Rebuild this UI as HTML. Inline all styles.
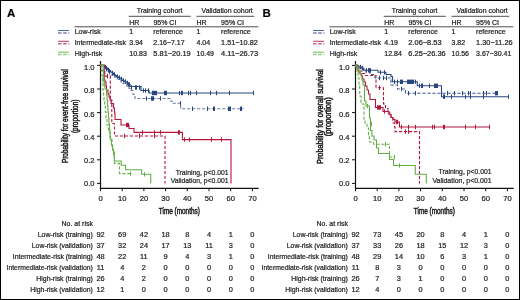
<!DOCTYPE html>
<html><head><meta charset="utf-8"><style>
html,body{margin:0;padding:0;background:#fff;width:520px;height:300px;overflow:hidden;}
svg{display:block;will-change:transform;}
text{font-family:"Liberation Sans",sans-serif;stroke:#2a2a2a;stroke-width:0.22px;}
text.ax{stroke-width:0.45px;stroke:#1a1a1a;}
</style></head><body>
<svg width="520" height="300" viewBox="0 0 520 300">
<rect x="0" y="0" width="520" height="300" fill="#fff"/>
<defs><g id="common">
<path d="M128.7,16.3H190.8M196.5,16.3H254.3M74.5,26.8H258.3" stroke="#222" stroke-width="0.8" fill="none"/>
<text x="129.2" y="25.1" font-size="7" fill="#1a1a1a">HR</text>
<text x="153.4" y="25.1" font-size="7" fill="#1a1a1a">95% CI</text>
<text x="196.5" y="25.1" font-size="7" fill="#1a1a1a">HR</text>
<text x="221.1" y="25.1" font-size="7" fill="#1a1a1a">95% CI</text>
<text x="136.7" y="13.1" font-size="7" textLength="45.8" lengthAdjust="spacingAndGlyphs" fill="#1a1a1a">Training cohort</text>
<text x="201.6" y="13.2" font-size="7" textLength="51.2" lengthAdjust="spacingAndGlyphs" fill="#1a1a1a">Validation cohort</text>
<text x="74.7" y="34.0" font-size="7" fill="#1a1a1a">Low-risk</text>
<path d="M58,30.5H69" stroke="#28467f" stroke-width="1.1" opacity="0.8"/>
<path d="M58,32.9H69.4" stroke="#28467f" stroke-width="1.5" stroke-dasharray="3.6 1.6" opacity="0.65"/>
<text x="74.7" y="44.8" font-size="7" textLength="51.3" lengthAdjust="spacingAndGlyphs" fill="#1a1a1a">Intermediate-risk</text>
<path d="M58,41.3H69" stroke="#b3173f" stroke-width="1.1" opacity="0.8"/>
<path d="M58,43.699999999999996H69.4" stroke="#b3173f" stroke-width="1.5" stroke-dasharray="3.6 1.6" opacity="0.65"/>
<text x="74.7" y="55.7" font-size="7" fill="#1a1a1a">High-risk</text>
<path d="M58,52.2H69" stroke="#62b046" stroke-width="1.1" opacity="0.8"/>
<path d="M58,54.6H69.4" stroke="#62b046" stroke-width="1.5" stroke-dasharray="3.6 1.6" opacity="0.65"/>
<path d="M100.5,61V188.9M99.9,188.3H258.7" stroke="#111" stroke-width="1.2" fill="none"/>
<path d="M97,183.4H100.5M97,159.8H100.5M97,136.2H100.5M97,112.6H100.5M97,89.0H100.5M97,65.4H100.5M100.5,188.3V191.2M122.2,188.3V191.2M143.9,188.3V191.2M165.6,188.3V191.2M187.3,188.3V191.2M209.0,188.3V191.2M230.7,188.3V191.2M252.4,188.3V191.2" stroke="#111" stroke-width="1" fill="none"/>
<text x="94.6" y="185.7" font-size="7.6" text-anchor="end" fill="#1a1a1a">0.0</text>
<text x="94.6" y="163.3" font-size="7.6" text-anchor="end" fill="#1a1a1a">0.2</text>
<text x="94.6" y="139.6" font-size="7.6" text-anchor="end" fill="#1a1a1a">0.4</text>
<text x="94.6" y="116.6" font-size="7.6" text-anchor="end" fill="#1a1a1a">0.6</text>
<text x="94.6" y="93.1" font-size="7.6" text-anchor="end" fill="#1a1a1a">0.8</text>
<text x="94.6" y="69.9" font-size="7.6" text-anchor="end" fill="#1a1a1a">1.0</text>
<text x="100.5" y="201.3" font-size="7.6" text-anchor="middle" fill="#1a1a1a">0</text>
<text x="122.2" y="201.3" font-size="7.6" text-anchor="middle" fill="#1a1a1a">10</text>
<text x="143.9" y="201.3" font-size="7.6" text-anchor="middle" fill="#1a1a1a">20</text>
<text x="165.6" y="201.3" font-size="7.6" text-anchor="middle" fill="#1a1a1a">30</text>
<text x="187.3" y="201.3" font-size="7.6" text-anchor="middle" fill="#1a1a1a">40</text>
<text x="209.0" y="201.3" font-size="7.6" text-anchor="middle" fill="#1a1a1a">50</text>
<text x="230.7" y="201.3" font-size="7.6" text-anchor="middle" fill="#1a1a1a">60</text>
<text x="252.4" y="201.3" font-size="7.6" text-anchor="middle" fill="#1a1a1a">70</text>
<text x="158.8" y="213.5" font-size="8.2" textLength="41" lengthAdjust="spacingAndGlyphs" fill="#1a1a1a" class="ax">Time (months)</text>
<text x="93" y="225.5" font-size="7" text-anchor="end" fill="#1a1a1a">No. at risk</text>
<text x="92.8" y="236.8" font-size="7" text-anchor="end" textLength="55.1" lengthAdjust="spacingAndGlyphs" fill="#1a1a1a">Low-risk (training)</text>
<text x="92.8" y="247.75" font-size="7" text-anchor="end" textLength="61.0" lengthAdjust="spacingAndGlyphs" fill="#1a1a1a">Low-risk (validation)</text>
<text x="92.8" y="258.7" font-size="7" text-anchor="end" textLength="80.0" lengthAdjust="spacingAndGlyphs" fill="#1a1a1a">Intermediate-risk (training)</text>
<text x="92.8" y="269.65" font-size="7" text-anchor="end" textLength="86.3" lengthAdjust="spacingAndGlyphs" fill="#1a1a1a">Intermediate-risk (validation)</text>
<text x="92.8" y="280.6" font-size="7" text-anchor="end" textLength="56.5" lengthAdjust="spacingAndGlyphs" fill="#1a1a1a">High-risk (training)</text>
<text x="92.8" y="291.55" font-size="7" text-anchor="end" textLength="62.5" lengthAdjust="spacingAndGlyphs" fill="#1a1a1a">High-risk (validation)</text>
</g></defs>
<use href="#common"/>
<use href="#common" transform="translate(255,0)"/>
<g id="pa">
<text x="7" y="16.7" font-size="11.5" font-weight="bold" fill="#000">A</text>
<text x="129.3" y="34.0" font-size="7" fill="#1a1a1a">1</text>
<text x="153.3" y="34.0" font-size="7" fill="#1a1a1a">reference</text>
<text x="196.5" y="34.0" font-size="7" fill="#1a1a1a">1</text>
<text x="221.1" y="34.0" font-size="7" fill="#1a1a1a">reference</text>
<text x="129.3" y="44.8" font-size="7" fill="#1a1a1a">3.94</text>
<text x="153.3" y="44.8" font-size="7" textLength="31.3" lengthAdjust="spacingAndGlyphs" fill="#1a1a1a">2.16−7.17</text>
<text x="196.5" y="44.8" font-size="7" fill="#1a1a1a">4.04</text>
<text x="221.1" y="44.8" font-size="7" textLength="36.7" lengthAdjust="spacingAndGlyphs" fill="#1a1a1a">1.51−10.82</text>
<text x="129.3" y="55.7" font-size="7" fill="#1a1a1a">10.83</text>
<text x="153.3" y="55.7" font-size="7" textLength="37.4" lengthAdjust="spacingAndGlyphs" fill="#1a1a1a">5.81−20.19</text>
<text x="196.5" y="55.7" font-size="7" fill="#1a1a1a">10.49</text>
<text x="221.1" y="55.7" font-size="7" textLength="37.1" lengthAdjust="spacingAndGlyphs" fill="#1a1a1a">4.11−26.73</text>
<text x="100.5" y="236.8" font-size="7.4" text-anchor="middle" fill="#1a1a1a">92</text>
<text x="122.2" y="236.8" font-size="7.4" text-anchor="middle" fill="#1a1a1a">69</text>
<text x="143.9" y="236.8" font-size="7.4" text-anchor="middle" fill="#1a1a1a">42</text>
<text x="165.6" y="236.8" font-size="7.4" text-anchor="middle" fill="#1a1a1a">18</text>
<text x="187.3" y="236.8" font-size="7.4" text-anchor="middle" fill="#1a1a1a">8</text>
<text x="209.0" y="236.8" font-size="7.4" text-anchor="middle" fill="#1a1a1a">4</text>
<text x="230.7" y="236.8" font-size="7.4" text-anchor="middle" fill="#1a1a1a">1</text>
<text x="252.4" y="236.8" font-size="7.4" text-anchor="middle" fill="#1a1a1a">0</text>
<text x="100.5" y="247.75" font-size="7.4" text-anchor="middle" fill="#1a1a1a">37</text>
<text x="122.2" y="247.75" font-size="7.4" text-anchor="middle" fill="#1a1a1a">32</text>
<text x="143.9" y="247.75" font-size="7.4" text-anchor="middle" fill="#1a1a1a">24</text>
<text x="165.6" y="247.75" font-size="7.4" text-anchor="middle" fill="#1a1a1a">17</text>
<text x="187.3" y="247.75" font-size="7.4" text-anchor="middle" fill="#1a1a1a">13</text>
<text x="209.0" y="247.75" font-size="7.4" text-anchor="middle" fill="#1a1a1a">11</text>
<text x="230.7" y="247.75" font-size="7.4" text-anchor="middle" fill="#1a1a1a">3</text>
<text x="252.4" y="247.75" font-size="7.4" text-anchor="middle" fill="#1a1a1a">0</text>
<text x="100.5" y="258.7" font-size="7.4" text-anchor="middle" fill="#1a1a1a">48</text>
<text x="122.2" y="258.7" font-size="7.4" text-anchor="middle" fill="#1a1a1a">22</text>
<text x="143.9" y="258.7" font-size="7.4" text-anchor="middle" fill="#1a1a1a">11</text>
<text x="165.6" y="258.7" font-size="7.4" text-anchor="middle" fill="#1a1a1a">9</text>
<text x="187.3" y="258.7" font-size="7.4" text-anchor="middle" fill="#1a1a1a">4</text>
<text x="209.0" y="258.7" font-size="7.4" text-anchor="middle" fill="#1a1a1a">3</text>
<text x="230.7" y="258.7" font-size="7.4" text-anchor="middle" fill="#1a1a1a">1</text>
<text x="252.4" y="258.7" font-size="7.4" text-anchor="middle" fill="#1a1a1a">0</text>
<text x="100.5" y="269.65" font-size="7.4" text-anchor="middle" fill="#1a1a1a">11</text>
<text x="122.2" y="269.65" font-size="7.4" text-anchor="middle" fill="#1a1a1a">4</text>
<text x="143.9" y="269.65" font-size="7.4" text-anchor="middle" fill="#1a1a1a">2</text>
<text x="165.6" y="269.65" font-size="7.4" text-anchor="middle" fill="#1a1a1a">0</text>
<text x="187.3" y="269.65" font-size="7.4" text-anchor="middle" fill="#1a1a1a">0</text>
<text x="209.0" y="269.65" font-size="7.4" text-anchor="middle" fill="#1a1a1a">0</text>
<text x="230.7" y="269.65" font-size="7.4" text-anchor="middle" fill="#1a1a1a">0</text>
<text x="252.4" y="269.65" font-size="7.4" text-anchor="middle" fill="#1a1a1a">0</text>
<text x="100.5" y="280.6" font-size="7.4" text-anchor="middle" fill="#1a1a1a">26</text>
<text x="122.2" y="280.6" font-size="7.4" text-anchor="middle" fill="#1a1a1a">4</text>
<text x="143.9" y="280.6" font-size="7.4" text-anchor="middle" fill="#1a1a1a">2</text>
<text x="165.6" y="280.6" font-size="7.4" text-anchor="middle" fill="#1a1a1a">0</text>
<text x="187.3" y="280.6" font-size="7.4" text-anchor="middle" fill="#1a1a1a">0</text>
<text x="209.0" y="280.6" font-size="7.4" text-anchor="middle" fill="#1a1a1a">0</text>
<text x="230.7" y="280.6" font-size="7.4" text-anchor="middle" fill="#1a1a1a">0</text>
<text x="252.4" y="280.6" font-size="7.4" text-anchor="middle" fill="#1a1a1a">0</text>
<text x="100.5" y="291.55" font-size="7.4" text-anchor="middle" fill="#1a1a1a">12</text>
<text x="122.2" y="291.55" font-size="7.4" text-anchor="middle" fill="#1a1a1a">1</text>
<text x="143.9" y="291.55" font-size="7.4" text-anchor="middle" fill="#1a1a1a">0</text>
<text x="165.6" y="291.55" font-size="7.4" text-anchor="middle" fill="#1a1a1a">0</text>
<text x="187.3" y="291.55" font-size="7.4" text-anchor="middle" fill="#1a1a1a">0</text>
<text x="209.0" y="291.55" font-size="7.4" text-anchor="middle" fill="#1a1a1a">0</text>
<text x="230.7" y="291.55" font-size="7.4" text-anchor="middle" fill="#1a1a1a">0</text>
<text x="252.4" y="291.55" font-size="7.4" text-anchor="middle" fill="#1a1a1a">0</text>
<text x="228.5" y="174.8" font-size="7" text-anchor="end" textLength="52.8" lengthAdjust="spacingAndGlyphs" fill="#1a1a1a">Training, p&lt;0.001</text>
<text x="228.5" y="183.3" font-size="7" text-anchor="end" textLength="57.8" lengthAdjust="spacingAndGlyphs" fill="#1a1a1a">Validation, p&lt;0.001</text>
<g transform="translate(67.7,116.2) rotate(-90)"><text x="0" y="0" font-size="8.2" text-anchor="middle" textLength="93.8" lengthAdjust="spacingAndGlyphs" fill="#1a1a1a" class="ax">Probability for event-free survival</text></g>
<g transform="translate(78.1,116.3) rotate(-90)"><text x="0" y="0" font-size="8.2" text-anchor="middle" textLength="33.6" lengthAdjust="spacingAndGlyphs" fill="#1a1a1a" class="ax">(proportion)</text></g>
<path d="M100.5,65.4H103.5V67H105V69H106.5V71H108V72.5H109.5V74H111V75H113V76.5H115V77.5H117V79H119V80.5H121V82H123V83.5H125V85H127V86.5H129V88.5H131V90.5H133V94.5H135V98.5H170V98.5H170V101H172V101H172V103.3H180.7V103.3H180.7V108.8H243.5V108.8" fill="none" stroke="#28467f" stroke-width="1.1" stroke-dasharray="3.2 1.8" opacity="0.7"/>
<path d="M100.5,65.4H104.5V66.5H106V68H107.5V69.5H109V70.5H110.5V72H112V73H113.5V74.5H115V75.5H116.5V76.5H118V77.5H120V79H122V80.5H124V81.5H126V83H128V84.5H130V86.5H141V87.5H141V90.5H149V90.5H149V93H253.9V93" fill="none" stroke="#28467f" stroke-width="1.2"/>
<path d="M100.5,65.4L101,65.4L101,70.3L104.8,70.3L104.8,76.1L110.3,76.1L110.3,100L111.8,100L111.8,123.5L114.5,123.5L114.5,136L165,136L165,183.4" fill="none" stroke="#b3173f" stroke-width="1.1" stroke-dasharray="3.2 1.8"/>
<path d="M100.5,65.4L104.2,65.4L104.2,80L105,80L105,82L106,82L106,86L106.5,86L106.5,90L108,90L108,94L109,94L109,97L110,97L110,100L111,100L111,103.5L113.5,103.5L113.5,108L114.5,108L114.5,113L115,113L115,119.5L121,119.5L121,125L129,125L129,128.5L134,128.5L134,132.4L182.4,132.4L182.4,139.6L231,139.6L231,183.4" fill="none" stroke="#b3173f" stroke-width="1.1"/>
<path d="M100.5,65.4L102,65.4L102,76L102.6,76L102.6,84L103,84L103,90L103.5,90L103.5,95L104,95L104,100L104.7,100L104.7,106L105.3,106L105.3,112L106,112L106,118L107,118L107,125L108.5,125L108.5,132L110,132L110,138L112,138L112,146L113,146L113,152L114.5,152L114.5,163.4L119.5,163.4L119.5,173.6L132.6,173.6" fill="none" stroke="#62b046" stroke-width="1.1" stroke-dasharray="3.2 1.8"/>
<path d="M100.5,65.4L103.3,65.4L103.3,78L103.8,78L103.8,82L104.3,82L104.3,86L105,86L105,89L106.5,89L106.5,95L107,95L107,100L107.5,100L107.5,106L108,106L108,112L108.5,112L108.5,118L109,118L109,124L109.5,124L109.5,130L110,130L110,136L110.5,136L110.5,140L111.5,140L111.5,145L112.5,145L112.5,150L113.5,150L113.5,155L114.3,155L114.3,161L121.2,161L121.2,165.2L125.6,165.2L125.6,169.7L141.6,169.7L141.6,174.3L150.7,174.3L150.7,183.4" fill="none" stroke="#62b046" stroke-width="1.1"/>
<path d="M105.5,64.8V69.2M106.5,66.3V70.7M108.5,67.8V72.2M109.5,68.8V73.2M112.5,70.8V75.2M114.5,72.3V76.7M117.5,74.3V78.7M119.5,75.3V79.7M121.5,76.8V81.2M123.5,78.3V82.7M125.5,79.3V83.7M127.5,80.8V85.2M128.5,82.3V86.7M129.5,82.3V86.7M131.5,85.3V89.7M135.5,85.3V89.7M136.5,85.3V89.7M139.5,85.3V89.7M143.5,88.3V92.7M145.5,88.3V92.7M148.5,88.3V92.7M152.5,90.8V95.2M153.5,90.8V95.2M154.5,90.8V95.2M155.5,90.8V95.2M156.5,90.8V95.2M164.5,90.8V95.2M165.5,90.8V95.2M166.5,90.8V95.2M179.5,90.8V95.2M181.5,90.8V95.2M182.5,90.8V95.2M188.5,90.8V95.2M190.5,90.8V95.2M196.5,90.8V95.2M210.5,90.8V95.2M216.5,90.8V95.2M229.5,90.8V95.2M253.5,90.8V95.2" fill="none" stroke="#28467f" stroke-width="1.0"/>
<path d="M146.5,96.3V100.7M151.5,96.3V100.7M152.5,96.3V100.7M153.5,96.3V100.7M160.5,96.3V100.7M180.5,101.1V105.5M192.5,106.6V111.0M207.5,106.6V111.0M213.5,106.6V111.0M214.5,106.6V111.0M228.5,106.6V111.0M229.5,106.6V111.0M230.5,106.6V111.0M240.5,106.6V111.0M241.5,106.6V111.0" fill="none" stroke="#28467f" stroke-width="1.0"/>
<path d="M107.5,74.0V78.4M126.5,122.8V127.2M127.5,122.8V127.2M128.5,122.8V127.2M142.5,130.20000000000002V134.6M154.5,130.20000000000002V134.6M160.5,130.20000000000002V134.6M178.5,130.20000000000002V134.6M179.5,130.20000000000002V134.6M184.5,137.4V141.79999999999998M189.5,137.4V141.79999999999998M211.5,137.4V141.79999999999998M221.5,137.4V141.79999999999998" fill="none" stroke="#b3173f" stroke-width="1.0"/>
<path d="M124.5,133.8V138.2M139.5,133.8V138.2M139.5,133.8V138.2M154.5,133.8V138.2" fill="none" stroke="#b3173f" stroke-width="1.0"/>
<path d="M144.5,172.10000000000002V176.5" fill="none" stroke="#62b046" stroke-width="1.0"/>
<path d="M130.5,171.4V175.79999999999998" fill="none" stroke="#62b046" stroke-width="1.0"/>
</g>
<g id="pb" transform="translate(255,0)">
<text x="7.399999999999977" y="17" font-size="11.5" font-weight="bold" fill="#000">B</text>
<text x="129.3" y="34.0" font-size="7" fill="#1a1a1a">1</text>
<text x="153.3" y="34.0" font-size="7" fill="#1a1a1a">reference</text>
<text x="196.5" y="34.0" font-size="7" fill="#1a1a1a">1</text>
<text x="221.1" y="34.0" font-size="7" fill="#1a1a1a">reference</text>
<text x="129.3" y="44.8" font-size="7" fill="#1a1a1a">4.19</text>
<text x="153.3" y="44.8" font-size="7" textLength="33.3" lengthAdjust="spacingAndGlyphs" fill="#1a1a1a">2.06−8.53</text>
<text x="196.5" y="44.8" font-size="7" fill="#1a1a1a">3.82</text>
<text x="221.1" y="44.8" font-size="7" textLength="36.6" lengthAdjust="spacingAndGlyphs" fill="#1a1a1a">1.30−11.26</text>
<text x="129.3" y="55.7" font-size="7" fill="#1a1a1a">12.84</text>
<text x="153.3" y="55.7" font-size="7" textLength="37.4" lengthAdjust="spacingAndGlyphs" fill="#1a1a1a">6.25−26.36</text>
<text x="196.5" y="55.7" font-size="7" fill="#1a1a1a">10.56</text>
<text x="221.1" y="55.7" font-size="7" textLength="35.2" lengthAdjust="spacingAndGlyphs" fill="#1a1a1a">3.67−30.41</text>
<text x="100.5" y="236.8" font-size="7.4" text-anchor="middle" fill="#1a1a1a">92</text>
<text x="122.2" y="236.8" font-size="7.4" text-anchor="middle" fill="#1a1a1a">73</text>
<text x="143.9" y="236.8" font-size="7.4" text-anchor="middle" fill="#1a1a1a">45</text>
<text x="165.6" y="236.8" font-size="7.4" text-anchor="middle" fill="#1a1a1a">20</text>
<text x="187.3" y="236.8" font-size="7.4" text-anchor="middle" fill="#1a1a1a">8</text>
<text x="209.0" y="236.8" font-size="7.4" text-anchor="middle" fill="#1a1a1a">4</text>
<text x="230.7" y="236.8" font-size="7.4" text-anchor="middle" fill="#1a1a1a">1</text>
<text x="252.4" y="236.8" font-size="7.4" text-anchor="middle" fill="#1a1a1a">0</text>
<text x="100.5" y="247.75" font-size="7.4" text-anchor="middle" fill="#1a1a1a">37</text>
<text x="122.2" y="247.75" font-size="7.4" text-anchor="middle" fill="#1a1a1a">33</text>
<text x="143.9" y="247.75" font-size="7.4" text-anchor="middle" fill="#1a1a1a">26</text>
<text x="165.6" y="247.75" font-size="7.4" text-anchor="middle" fill="#1a1a1a">18</text>
<text x="187.3" y="247.75" font-size="7.4" text-anchor="middle" fill="#1a1a1a">15</text>
<text x="209.0" y="247.75" font-size="7.4" text-anchor="middle" fill="#1a1a1a">12</text>
<text x="230.7" y="247.75" font-size="7.4" text-anchor="middle" fill="#1a1a1a">3</text>
<text x="252.4" y="247.75" font-size="7.4" text-anchor="middle" fill="#1a1a1a">0</text>
<text x="100.5" y="258.7" font-size="7.4" text-anchor="middle" fill="#1a1a1a">48</text>
<text x="122.2" y="258.7" font-size="7.4" text-anchor="middle" fill="#1a1a1a">29</text>
<text x="143.9" y="258.7" font-size="7.4" text-anchor="middle" fill="#1a1a1a">14</text>
<text x="165.6" y="258.7" font-size="7.4" text-anchor="middle" fill="#1a1a1a">10</text>
<text x="187.3" y="258.7" font-size="7.4" text-anchor="middle" fill="#1a1a1a">6</text>
<text x="209.0" y="258.7" font-size="7.4" text-anchor="middle" fill="#1a1a1a">3</text>
<text x="230.7" y="258.7" font-size="7.4" text-anchor="middle" fill="#1a1a1a">1</text>
<text x="252.4" y="258.7" font-size="7.4" text-anchor="middle" fill="#1a1a1a">0</text>
<text x="100.5" y="269.65" font-size="7.4" text-anchor="middle" fill="#1a1a1a">11</text>
<text x="122.2" y="269.65" font-size="7.4" text-anchor="middle" fill="#1a1a1a">8</text>
<text x="143.9" y="269.65" font-size="7.4" text-anchor="middle" fill="#1a1a1a">3</text>
<text x="165.6" y="269.65" font-size="7.4" text-anchor="middle" fill="#1a1a1a">0</text>
<text x="187.3" y="269.65" font-size="7.4" text-anchor="middle" fill="#1a1a1a">0</text>
<text x="209.0" y="269.65" font-size="7.4" text-anchor="middle" fill="#1a1a1a">0</text>
<text x="230.7" y="269.65" font-size="7.4" text-anchor="middle" fill="#1a1a1a">0</text>
<text x="252.4" y="269.65" font-size="7.4" text-anchor="middle" fill="#1a1a1a">0</text>
<text x="100.5" y="280.6" font-size="7.4" text-anchor="middle" fill="#1a1a1a">26</text>
<text x="122.2" y="280.6" font-size="7.4" text-anchor="middle" fill="#1a1a1a">7</text>
<text x="143.9" y="280.6" font-size="7.4" text-anchor="middle" fill="#1a1a1a">3</text>
<text x="165.6" y="280.6" font-size="7.4" text-anchor="middle" fill="#1a1a1a">1</text>
<text x="187.3" y="280.6" font-size="7.4" text-anchor="middle" fill="#1a1a1a">0</text>
<text x="209.0" y="280.6" font-size="7.4" text-anchor="middle" fill="#1a1a1a">0</text>
<text x="230.7" y="280.6" font-size="7.4" text-anchor="middle" fill="#1a1a1a">0</text>
<text x="252.4" y="280.6" font-size="7.4" text-anchor="middle" fill="#1a1a1a">0</text>
<text x="100.5" y="291.55" font-size="7.4" text-anchor="middle" fill="#1a1a1a">12</text>
<text x="122.2" y="291.55" font-size="7.4" text-anchor="middle" fill="#1a1a1a">4</text>
<text x="143.9" y="291.55" font-size="7.4" text-anchor="middle" fill="#1a1a1a">0</text>
<text x="165.6" y="291.55" font-size="7.4" text-anchor="middle" fill="#1a1a1a">0</text>
<text x="187.3" y="291.55" font-size="7.4" text-anchor="middle" fill="#1a1a1a">0</text>
<text x="209.0" y="291.55" font-size="7.4" text-anchor="middle" fill="#1a1a1a">0</text>
<text x="230.7" y="291.55" font-size="7.4" text-anchor="middle" fill="#1a1a1a">0</text>
<text x="252.4" y="291.55" font-size="7.4" text-anchor="middle" fill="#1a1a1a">0</text>
<text x="236.60000000000002" y="174.0" font-size="7" text-anchor="end" textLength="53.1" lengthAdjust="spacingAndGlyphs" fill="#1a1a1a">Training, p&lt;0.001</text>
<text x="236.60000000000002" y="182.8" font-size="7" text-anchor="end" textLength="59.2" lengthAdjust="spacingAndGlyphs" fill="#1a1a1a">Validation, p&lt;0.001</text>
<g transform="translate(67.69999999999999,116.5) rotate(-90)"><text x="0" y="0" font-size="8.2" text-anchor="middle" textLength="94.9" lengthAdjust="spacingAndGlyphs" fill="#1a1a1a" class="ax">Probability for overall survival</text></g>
<g transform="translate(76.0,116.75) rotate(-90)"><text x="0" y="0" font-size="8.2" text-anchor="middle" textLength="39.1" lengthAdjust="spacingAndGlyphs" fill="#1a1a1a" class="ax">(proportion)</text></g>
<path d="M100.2,65.4L103,65.4L103,67L107,67L107,69L111,69L111,72L115,72L115,74.5L120,74.5L120,78L136,78L136,85L142.5,85L142.5,89L150.5,89L150.5,93.2L242,93.2" fill="none" stroke="#28467f" stroke-width="1.1" stroke-dasharray="3.2 1.8" opacity="0.9"/>
<path d="M100.2,65.4L102,65.4L102,66L104,66L104,67L106,67L106,68L108.5,68L108.5,70.3L123,70.3L123,72.3L131,72.3L131,74.5L136,74.5L136,76.5L137.5,76.5L137.5,81.8L162.3,81.8L162.3,85.8L186.5,85.8L186.5,96.7L253,96.7" fill="none" stroke="#28467f" stroke-width="1.1"/>
<path d="M100.2,65.4L102,65.4L102,68L104,68L104,71L107,71L107,73.5L110,73.5L110,75.5L121,75.5L121,87.8L128.5,87.8L128.5,104L130.5,104L130.5,108.5L133,108.5L133,113L136,113L136,118L138,118L138,123L139.5,123L139.5,127L140,127L140,131.6L164.5,131.6L164.5,183.4" fill="none" stroke="#b3173f" stroke-width="1.1" stroke-dasharray="3.2 1.8"/>
<path d="M100.2,65.4L101.5,65.4L101.5,68L102.5,68L102.5,70L103.5,70L103.5,72L105,72L105,74L106.5,74L106.5,76L107.5,76L107.5,79L109,79L109,82L110.5,82L110.5,86L112,86L112,90L113.5,90L113.5,94L115,94L115,99.5L120.5,99.5L120.5,107.5L128,107.5L128,111.5L134,111.5L134,114.5L136,114.5L136,117.5L138,117.5L138,119.5L140,119.5L140,122L144.5,122L144.5,127L235,127" fill="none" stroke="#b3173f" stroke-width="1.1"/>
<path d="M100.2,65.4L101,65.4L101,68L102,68L102,72L103,72L103,78L104,78L104,86L104.7,86L104.7,96L106,96L106,104L109,104L109,120L110,120L110,124L112,124L112,128L113.5,128L113.5,136L114.3,136L114.3,142L118.5,142L118.5,144.2L134.5,144.2L134.5,157L140,157" fill="none" stroke="#62b046" stroke-width="1.1" stroke-dasharray="3.2 1.8"/>
<path d="M100.2,65.4L101.5,65.4L101.5,67L102.5,67L102.5,69L103.5,69L103.5,71L105,71L105,73.5L106,73.5L106,76L107,76L107,80L108,80L108,85L109.5,85L109.5,101L111,101L111,106L114.5,106L114.5,118L115.5,118L115.5,130.5L117,130.5L117,136L119,136L119,140L121.5,140L121.5,148L123.5,148L123.5,153.5L134.5,153.5L134.5,159.5L138.5,159.5L138.5,165.5L160.3,165.5L160.3,174.3L171.3,174.3L171.3,183.4" fill="none" stroke="#62b046" stroke-width="1.1"/>
<path d="M105.5,64.8V69.2M107.5,65.8V70.2M111.5,68.1V72.5M113.5,68.1V72.5M114.5,68.1V72.5M115.5,68.1V72.5M125.5,70.1V74.5M129.5,70.1V74.5M139.5,79.6V84.0M142.5,79.6V84.0M145.5,79.6V84.0M146.5,79.6V84.0M147.5,79.6V84.0M152.5,79.6V84.0M153.5,79.6V84.0M154.5,79.6V84.0M155.5,79.6V84.0M156.5,79.6V84.0M157.5,79.6V84.0M158.5,79.6V84.0M160.5,79.6V84.0M164.5,83.6V88.0M166.5,83.6V88.0M167.5,83.6V88.0M174.5,83.6V88.0M179.5,83.6V88.0M180.5,83.6V88.0M181.5,83.6V88.0M182.5,83.6V88.0M188.5,94.5V98.9M189.5,94.5V98.9M196.5,94.5V98.9M210.5,94.5V98.9M215.5,94.5V98.9M228.5,94.5V98.9M253.5,94.5V98.9" fill="none" stroke="#28467f" stroke-width="1.0"/>
<path d="M124.5,75.8V80.2M128.5,75.8V80.2M131.5,75.8V80.2M146.5,86.8V91.2M153.5,91.0V95.4M160.5,91.0V95.4M192.5,91.0V95.4M199.5,91.0V95.4M207.5,91.0V95.4M213.5,91.0V95.4M215.5,91.0V95.4M228.5,91.0V95.4M231.5,91.0V95.4M240.5,91.0V95.4M241.5,91.0V95.4M242.5,91.0V95.4" fill="none" stroke="#28467f" stroke-width="1.0"/>
<path d="M122.5,105.3V109.7M123.5,105.3V109.7M124.5,105.3V109.7M125.5,105.3V109.7M129.5,109.3V113.7M141.5,119.8V124.2M142.5,119.8V124.2M146.5,124.8V129.2M153.5,124.8V129.2M160.5,124.8V129.2M177.5,124.8V129.2M179.5,124.8V129.2M188.5,124.8V129.2M189.5,124.8V129.2M210.5,124.8V129.2M220.5,124.8V129.2M234.5,124.8V129.2" fill="none" stroke="#b3173f" stroke-width="1.0"/>
<path d="M124.5,85.6V90.0M150.5,129.4V133.79999999999998M153.5,129.4V133.79999999999998" fill="none" stroke="#b3173f" stroke-width="1.0"/>
<path d="M144.5,163.3V167.7M112.5,103.8V108.2" fill="none" stroke="#62b046" stroke-width="1.0"/>
<path d="M130.5,142.0V146.39999999999998M116.5,121.8V126.2M139.5,154.8V159.2" fill="none" stroke="#62b046" stroke-width="1.0"/>
</g>
<rect x="0.5" y="0.5" width="519" height="299" fill="none" stroke="#000" stroke-width="1"/>
</svg>
</body></html>
